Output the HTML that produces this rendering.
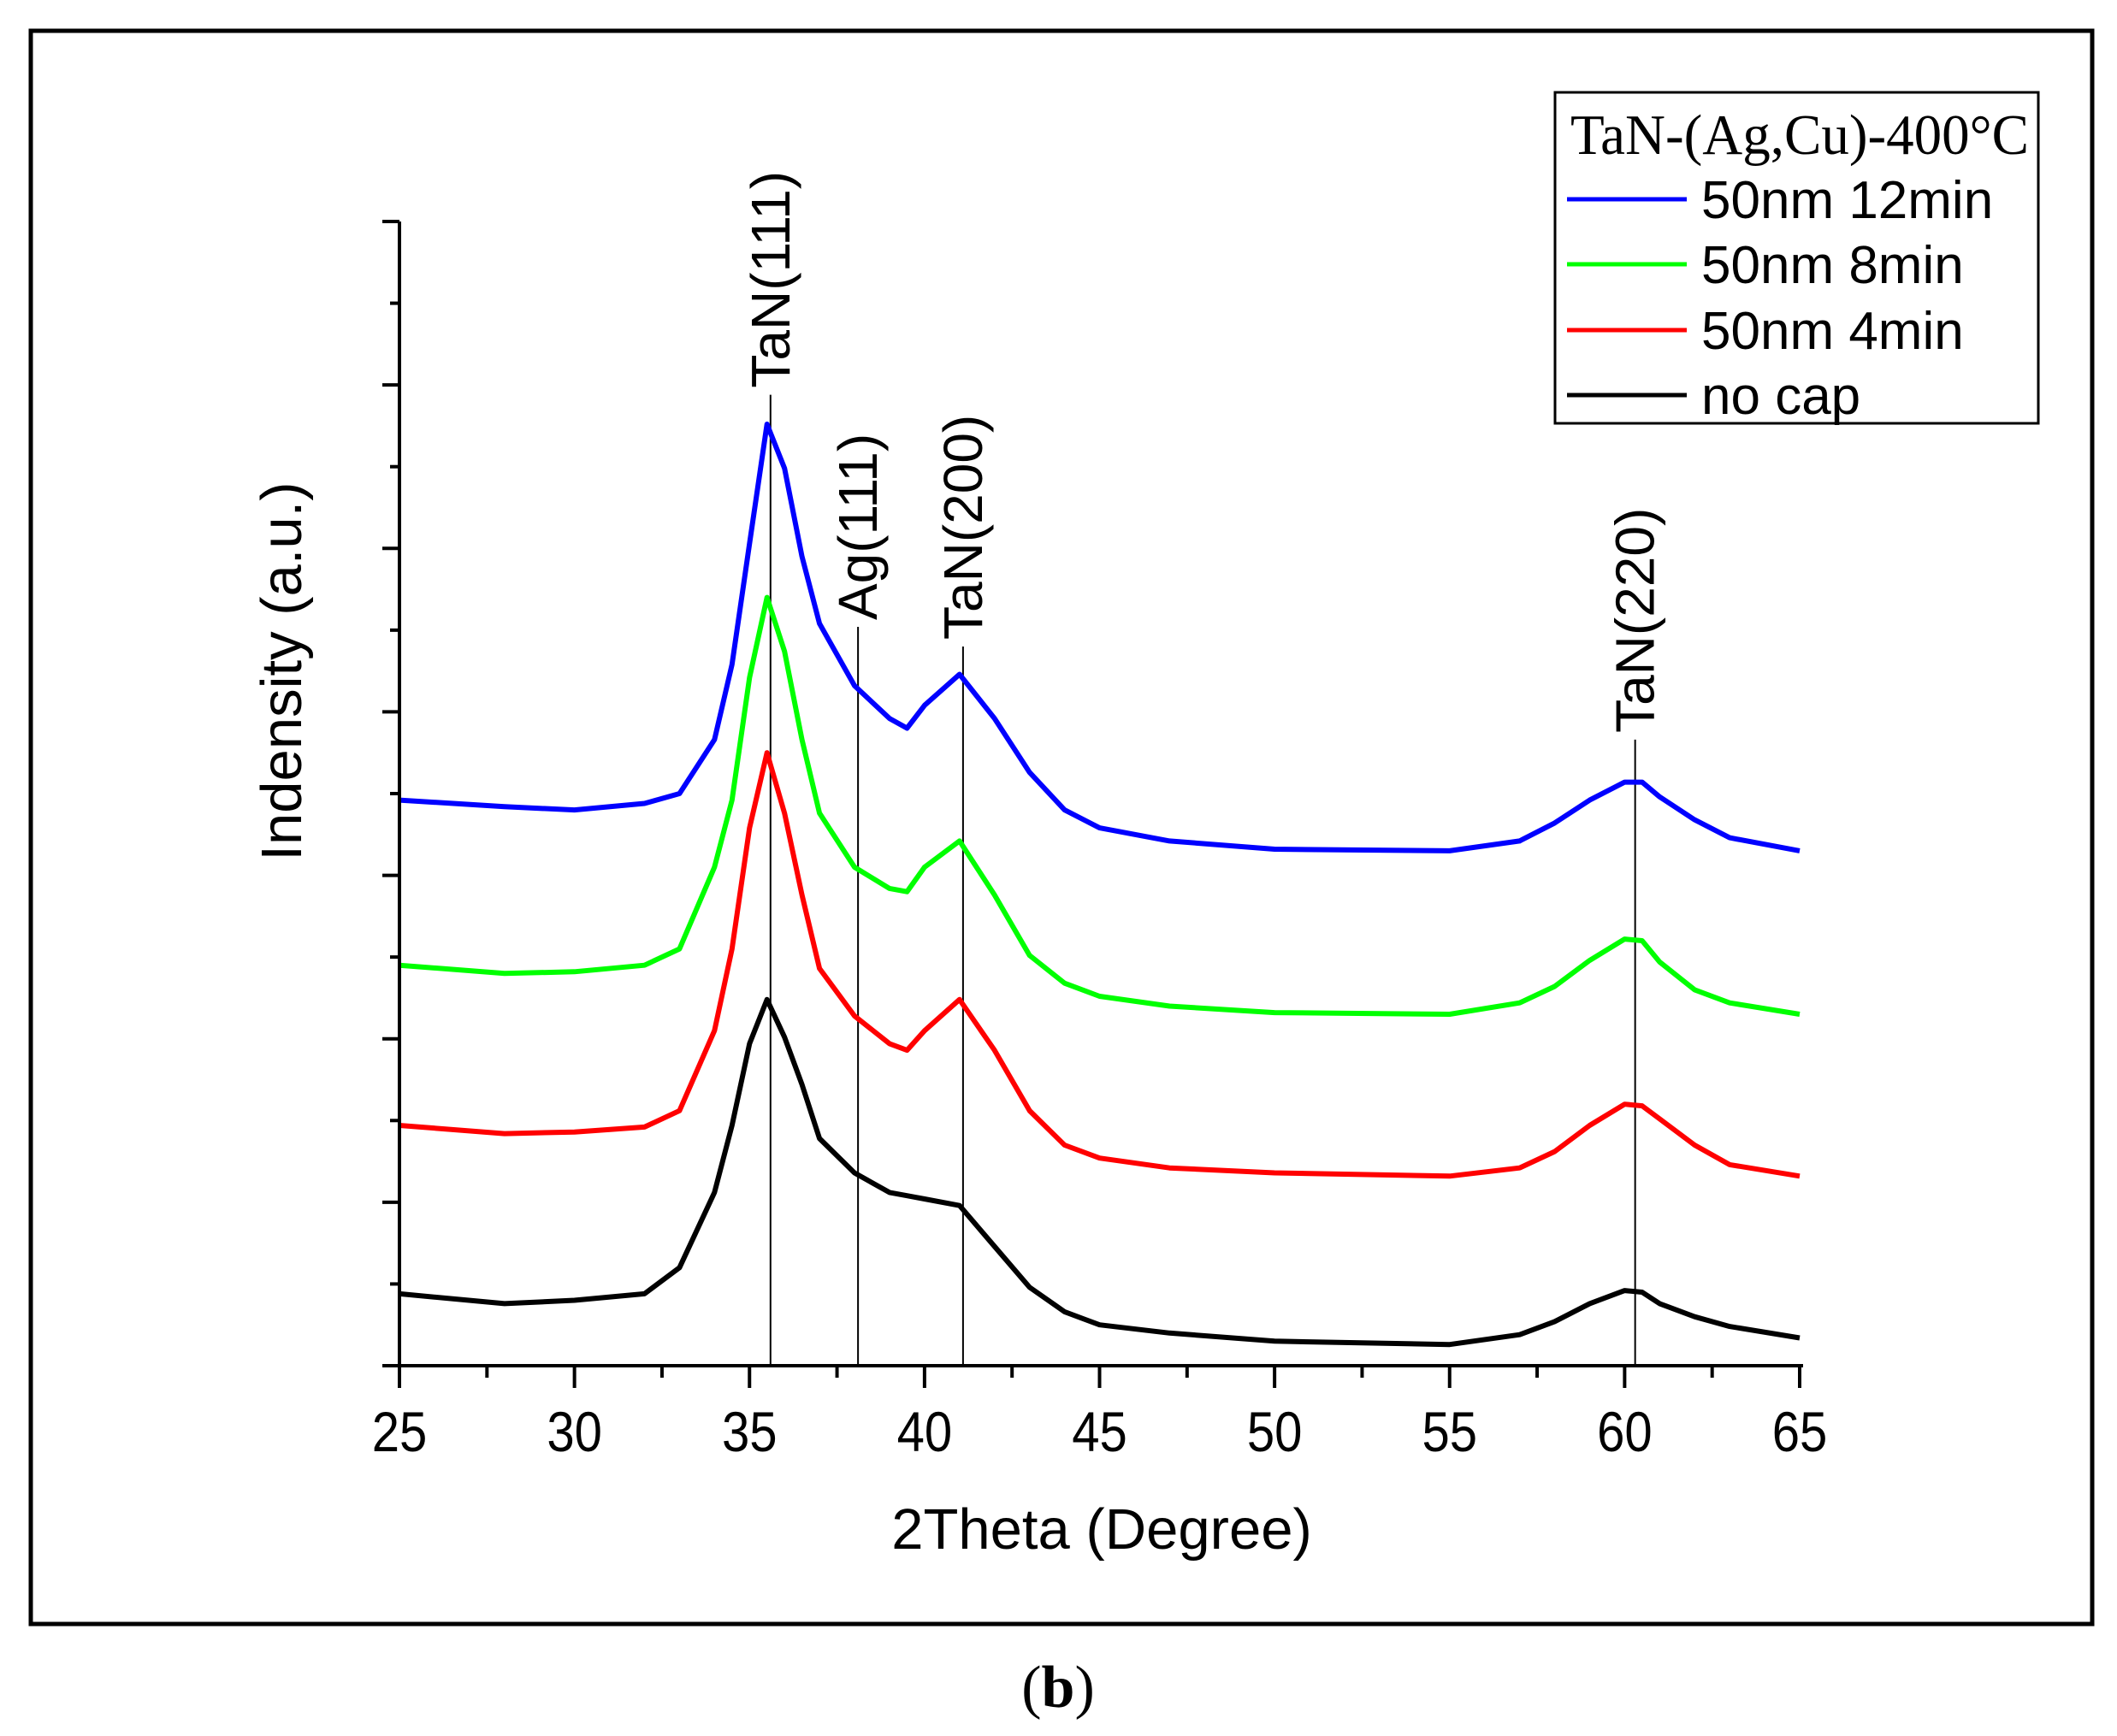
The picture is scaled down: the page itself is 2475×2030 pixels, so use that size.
<!DOCTYPE html>
<html><head><meta charset="utf-8"><style>
html,body{margin:0;padding:0;background:#fff;}
svg{display:block;}
</style></head><body>
<svg id="chart" width="2475" height="2030" viewBox="0 0 2475 2030" xmlns="http://www.w3.org/2000/svg">
<rect x="36" y="36" width="2410" height="1863" fill="none" stroke="#000" stroke-width="5"/>
<g id="plot"></g>
<text x="1288" y="1811" font-family="Liberation Sans, sans-serif" font-size="67" text-anchor="middle">2Theta (Degree)</text>
<text transform="translate(352,785) rotate(-90)" font-family="Liberation Sans, sans-serif" font-size="67" text-anchor="middle">Indensity (a.u.)</text>
<g>
<rect x="1818" y="108" width="565" height="387" fill="#fff" stroke="#000" stroke-width="3"/>
<text x="1836" y="180" font-family="Liberation Serif, serif" font-size="67" textLength="536" lengthAdjust="spacingAndGlyphs">TaN-(Ag,Cu)-400°C</text>
<line x1="1832" y1="233" x2="1972" y2="233" stroke="#0000ff" stroke-width="5"/>
<text x="1989" y="255" font-family="Liberation Sans, sans-serif" font-size="62">50nm 12min</text>
<line x1="1832" y1="309" x2="1972" y2="309" stroke="#00ff00" stroke-width="5"/>
<text x="1989" y="331" font-family="Liberation Sans, sans-serif" font-size="62">50nm 8min</text>
<line x1="1832" y1="386" x2="1972" y2="386" stroke="#ff0000" stroke-width="5"/>
<text x="1989" y="408" font-family="Liberation Sans, sans-serif" font-size="62">50nm 4min</text>
<line x1="1832" y1="462" x2="1972" y2="462" stroke="#000" stroke-width="5"/>
<text x="1989" y="484" font-family="Liberation Sans, sans-serif" font-size="62">no cap</text>
</g>
<text x="1237" y="1996" font-family="Liberation Serif, serif" font-size="70" text-anchor="middle">(<tspan font-weight="bold">b</tspan>)</text>
</svg>
<script>
const xVals = [25,28,30,32,33,34,34.5,35,35.5,36,36.5,37,38,39,39.5,40,41,42,43,44,45,47,50,55,57,58,59,60,60.5,61,62,63,65];
const blueVals  = [3.46,3.42,3.40,3.44,3.50,3.83,4.29,5.03,5.76,5.49,4.95,4.54,4.16,3.96,3.90,4.04,4.23,3.96,3.63,3.40,3.29,3.21,3.16,3.15,3.21,3.32,3.46,3.57,3.57,3.48,3.34,3.23,3.15];
const greenVals = [2.45,2.40,2.41,2.45,2.55,3.05,3.46,4.21,4.70,4.37,3.83,3.38,3.05,2.92,2.90,3.05,3.21,2.88,2.51,2.34,2.26,2.20,2.16,2.15,2.22,2.32,2.48,2.61,2.60,2.47,2.30,2.22,2.15];
const redVals   = [1.47,1.42,1.43,1.46,1.56,2.05,2.55,3.29,3.75,3.38,2.88,2.43,2.14,1.97,1.93,2.05,2.24,1.93,1.56,1.35,1.27,1.21,1.18,1.16,1.21,1.31,1.47,1.60,1.59,1.51,1.35,1.23,1.16];
const blackVals = [0.44,0.38,0.40,0.44,0.60,1.06,1.47,1.97,2.24,2.01,1.72,1.39,1.18,1.06,1.04,1.02,0.98,0.73,0.48,0.33,0.25,0.20,0.15,0.13,0.19,0.27,0.38,0.46,0.45,0.38,0.30,0.24,0.17];
const xTicks = [25,30,35,40,45,50,55,60,65];
const yTickCount = 7;
const peakPos = [35.6,38.1,41.1,60.3];
const peakLabels = ['TaN(111)','Ag(111)','TaN(200)','TaN(220)'];
const peakTops = [5.94,4.52,4.40,3.83];

const X0=467, X1=2104, Y0=1597, Y1=259;
const sx = v => X0 + (v-25)/(65-25)*(X1-X0);
const sy = v => Y0 - v/7*(Y0-Y1);
const NS='http://www.w3.org/2000/svg';
const g=document.getElementById('plot');
function mk(t,a){const e=document.createElementNS(NS,t);for(const k in a)e.setAttribute(k,a[k]);g.appendChild(e);return e;}

peakPos.forEach((p,i)=>{
  const l=mk('line',{x1:sx(p),x2:sx(p),y1:sy(peakTops[i]),y2:Y0,stroke:'#000','stroke-width':2});
  
  
  const t=mk('text',{transform:`translate(${sx(p)+22},${sy(peakTops[i])-8}) rotate(-90) scale(1,1)`,'font-family':'Liberation Sans, sans-serif','font-size':64});
  t.textContent=peakLabels[i];
  
  
});

[[blackVals,'#000000','series-no-cap'],[redVals,'#ff0000','series-4min'],[greenVals,'#00ff00','series-8min'],[blueVals,'#0000ff','series-12min']].forEach(s=>{
  const pts=xVals.map((x,i)=>sx(x).toFixed(1)+','+sy(s[0][i]).toFixed(1)).join(' ');
  const pl=mk('polyline',{points:pts,fill:'none',stroke:s[1],'stroke-width':6,'stroke-linejoin':'round'});
  
  
});

const xa=mk('line',{x1:X0-20,x2:X1+4,y1:Y0,y2:Y0,stroke:'#000','stroke-width':4});


const ya=mk('line',{x1:X0,x2:X0,y1:Y1,y2:Y0,stroke:'#000','stroke-width':4});



for(let i=0;i<xTicks.length;i++){
  const x=sx(xTicks[i]);
  const t=mk('line',{x1:x,x2:x,y1:Y0,y2:Y0+26,stroke:'#000','stroke-width':4});
  
  
  const lb=mk('text',{transform:`translate(${x},${Y0+100}) scale(0.88,1)`,'font-family':'Liberation Sans, sans-serif','font-size':66,'text-anchor':'middle'});
  lb.textContent=xTicks[i];
  
  
  if(i<xTicks.length-1){
    const xm=sx(xTicks[i]+2.5);
    const m=mk('line',{x1:xm,x2:xm,y1:Y0,y2:Y0+14,stroke:'#000','stroke-width':4});
    
    
  }
}
for(let i=0;i<=yTickCount;i++){
  const y=sy(i);
  const t=mk('line',{x1:X0-20,x2:X0,y1:y,y2:y,stroke:'#000','stroke-width':4});
  
  
  if(i<yTickCount){
    const ym=sy(i+0.5);
    const m=mk('line',{x1:X0-11,x2:X0,y1:ym,y2:ym,stroke:'#000','stroke-width':4});
    
    
  }
}
</script>
</body></html>
